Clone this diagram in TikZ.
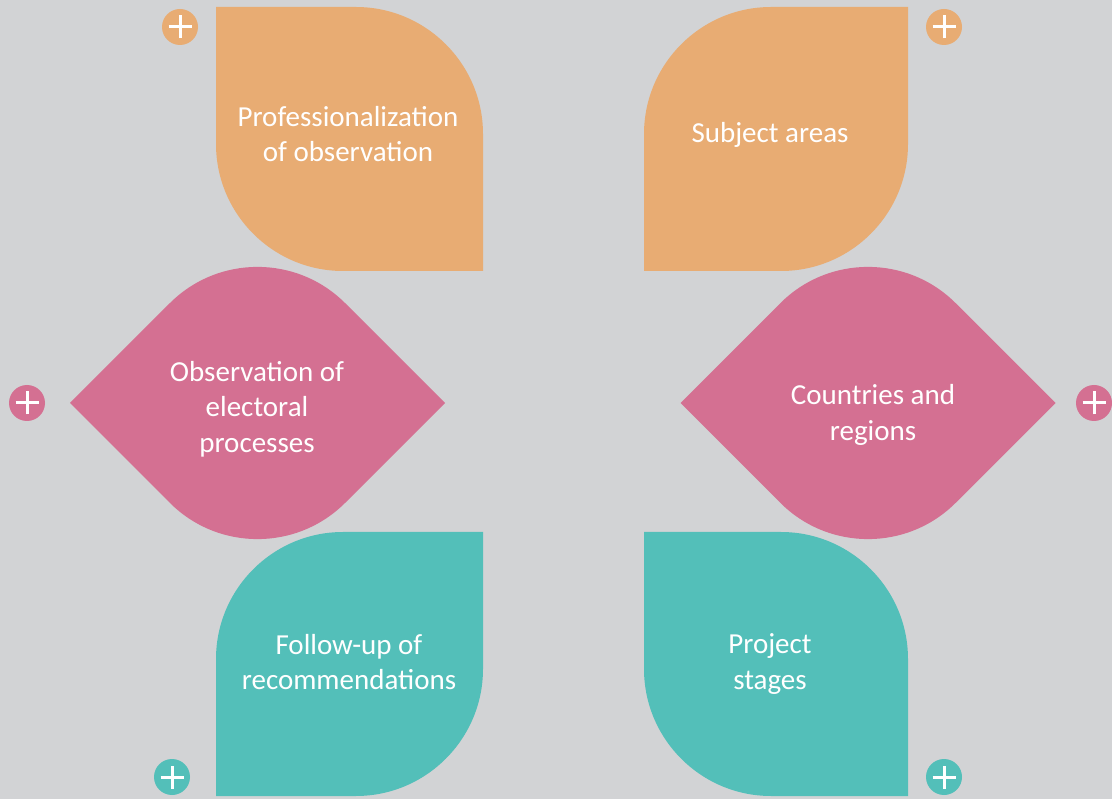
\documentclass[tikz,border=0pt]{standalone}
\usepackage{fontspec}
\setmainfont{Carlito}
\definecolor{bgc}{HTML}{D2D3D5}
\definecolor{orangec}{HTML}{E8AC73}
\definecolor{pinkc}{HTML}{D47092}
\definecolor{tealc}{HTML}{53BFB9}
\tikzset{
  label text/.style={text=white, align=center, font=\fontsize{29pt}{35.5pt}\selectfont, inner sep=0pt},
  plusdot/.style={circle, minimum size=36pt, inner sep=0pt},
  plusline/.style={white, line width=3pt}
}
\begin{document}
\begin{tikzpicture}[x=1pt,y=-1pt]
\fill[bgc] (0,0) rectangle (1112,799);
\useasboundingbox (0,0) rectangle (1112,799);
% orange leaves
\fill[orangec] (216,7) -- (356,7) .. controls (426,7) and (483,64) .. (483,134) -- (483,271) -- (343,271) .. controls (273,271) and (216,214) .. (216,144) -- cycle;
\fill[orangec] (644,134) .. controls (644,64) and (701,7) .. (771,7) -- (908,7) -- (908,144) .. controls (908,214) and (851,271) .. (781,271) -- (644,271) -- cycle;
% teal leaves
\fill[tealc] (216,659) .. controls (216,589) and (273,532) .. (343,532) -- (483,532) -- (483,669) .. controls (483,739) and (426,796) .. (356,796) -- (216,796) -- cycle;
\fill[tealc] (644,532) -- (781,532) .. controls (851,532) and (908,589) .. (908,659) -- (908,796) -- (771,796) .. controls (701,796) and (644,739) .. (644,669) -- cycle;
% pink diamonds
\foreach \dx in {0,610.5}{
\begin{scope}[shift={(\dx,0)}]
\fill[pinkc] (70,403) -- (169.8,303.2) .. controls (218.2,254.8) and (296.8,254.8) .. (345.2,303.2) -- (445,403) -- (345.2,502.8) .. controls (296.8,551.2) and (218.2,551.2) .. (169.8,502.8) -- cycle;
\end{scope}
}
% labels
\node[label text] (t1) at (348,134) {Professionalization\\of observation};
\node[label text] (t2) at (770,135) {Subject areas};
\node[label text] (t3) at (257,409) {Observation of\\electoral\\processes};
\node[label text] (t4) at (873,415) {Countries and\\regions};
\node[label text] (t5) at (349,662) {Follow-up of\\recommendations};
\node[label text] (t6) at (770,664) {Project\\stages};
% plus buttons
\node[plusdot, fill=orangec] (p1) at (180,27) {};
\node[plusdot, fill=orangec] (p2) at (944,27) {};
\node[plusdot, fill=pinkc] (p3) at (27,403) {};
\node[plusdot, fill=pinkc] (p4) at (1094,403) {};
\node[plusdot, fill=tealc] (p5) at (172,777) {};
\node[plusdot, fill=tealc] (p6) at (944,777) {};
\foreach \p in {p1,p2,p3,p4,p5,p6}{
  \draw[plusline] ([xshift=-11.5pt]\p.center) -- ([xshift=11.5pt]\p.center);
  \draw[plusline] ([yshift=-11.5pt]\p.center) -- ([yshift=11.5pt]\p.center);
}
\end{tikzpicture}
\end{document}
